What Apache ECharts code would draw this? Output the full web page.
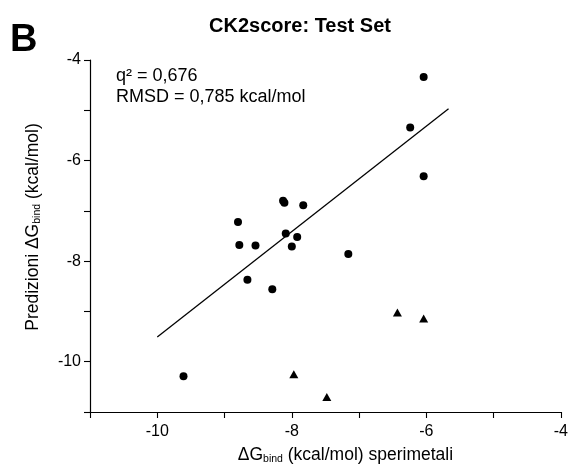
<!DOCTYPE html>
<html><head><meta charset="utf-8">
<script src="https://cdn.jsdelivr.net/npm/echarts@6/dist/echarts.min.js"></script>
<style>html,body{margin:0;padding:0;background:#fff}#c{width:571px;height:470px}</style>
</head><body><div id="c"></div>
<script>
// Experimental (x) and predicted (y) binding free energies, kcal/mol
const circleX = [-8.13, -8.11, -7.83, -8.80, -8.09, -7.92, -8.78, -8.54, -8.00, -7.16, -8.66, -8.29, -6.04, -6.24, -6.04, -9.61];
const circleY = [-6.80, -6.84, -6.89, -7.22, -7.45, -7.52, -7.68, -7.69, -7.71, -7.86, -8.37, -8.56, -4.34, -5.34, -6.31, -10.29];
const triangleX = [-6.43, -6.04, -7.97, -7.48];
const triangleY = [-9.02, -9.14, -10.25, -10.70];
const fitX = [-10.0, -5.67];
const fitY = [-9.51, -4.97];
const majorTicks = [-10, -8, -6, -4];

const FONT = '"Liberation Sans", Arial, Helvetica, sans-serif';
const zip = (a, b) => a.map((v, i) => [v, b[i]]);

const chart = echarts.init(document.getElementById('c'), null, {renderer: 'canvas'});
const nameRich = {
  n: {fontFamily: FONT, fontSize: 17.5, color: '#000'},
  s: {fontFamily: FONT, fontSize: 10.5, color: '#000', verticalAlign: 'bottom', padding: [9, 0, 0, 0]}
};
const axisCommon = {
  type: 'value', min: -11, max: -4, interval: 1,
  axisLine: {show: true, onZero: false, lineStyle: {color: '#000', width: 1.2}},
  axisTick: {show: true, length: 6, lineStyle: {color: '#000', width: 1.1}},
  splitLine: {show: false},
  axisLabel: {
    color: '#000', fontFamily: FONT, fontSize: 16,
    formatter: v => majorTicks.includes(v) ? String(v) : ''
  },
  nameLocation: 'middle'
};
chart.setOption({
  animation: false,
  backgroundColor: '#fff',
  grid: {left: 90, right: 7, top: 60, bottom: 53, containLabel: false},
  xAxis: Object.assign({}, axisCommon, {
    name: '{n|ΔG}{s|bind}{n| (kcal/mol) sperimetali}',
    nameGap: 33,
    nameTextStyle: {padding: [0, 0, 0, 40], rich: nameRich},
    axisLabel: Object.assign({}, axisCommon.axisLabel, {margin: 12})
  }),
  yAxis: Object.assign({}, axisCommon, {
    name: '{n|Predizioni ΔG}{s|bind}{n| (kcal/mol)}',
    nameGap: 47,
    nameTextStyle: {padding: [0, 0, 0, 18], rich: nameRich},
    axisLabel: Object.assign({}, axisCommon.axisLabel, {margin: 9})
  }),
  graphic: [
    {type: 'text', left: 10, top: 22, style: {text: 'B', fontFamily: FONT, fontWeight: 'bold', fontSize: 38, fill: '#000'}},
    {type: 'text', x: 300, y: 26, style: {text: 'CK2score: Test Set', fontFamily: FONT, fontWeight: 'bold', fontSize: 20, fill: '#000', textAlign: 'center', textVerticalAlign: 'middle', verticalAlign: 'middle'}},
    {type: 'text', x: 116, y: 76, style: {text: 'q² = 0,676', fontFamily: FONT, fontSize: 18, fill: '#000', textVerticalAlign: 'middle', verticalAlign: 'middle'}},
    {type: 'text', x: 116, y: 97, style: {text: 'RMSD = 0,785 kcal/mol', fontFamily: FONT, fontSize: 18, fill: '#000', textVerticalAlign: 'middle', verticalAlign: 'middle'}}
  ],
  series: [
    {type: 'line', data: zip(fitX, fitY), showSymbol: false, symbol: 'none',
     lineStyle: {color: '#000', width: 1.3}, z: 1},
    {type: 'scatter', data: zip(circleX, circleY), symbol: 'circle', symbolSize: 8,
     itemStyle: {color: '#000', opacity: 1}, z: 3},
    {type: 'scatter', data: zip(triangleX, triangleY), symbol: 'triangle', symbolSize: [9, 8],
     itemStyle: {color: '#000', opacity: 1}, z: 3}
  ]
});
</script></body></html>
